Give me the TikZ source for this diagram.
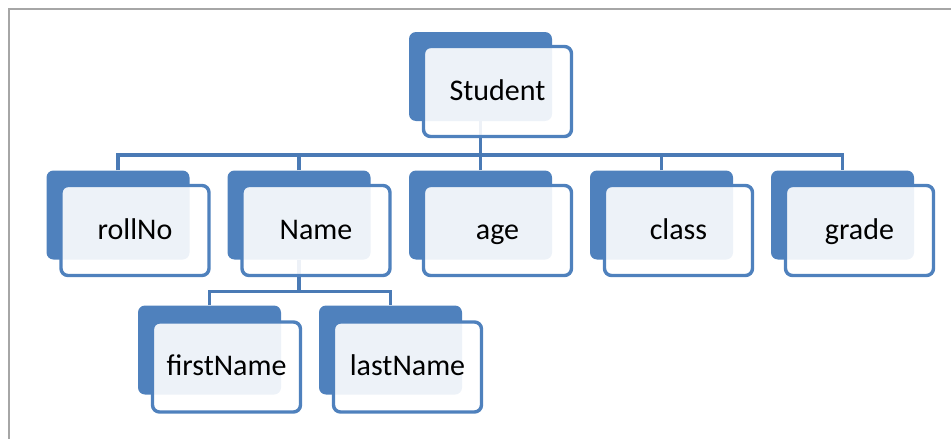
\documentclass[tikz,border=0pt]{standalone}
\usepackage{fontspec}
\setmainfont{Carlito}
\definecolor{boxblue}{HTML}{4F81BD}
\definecolor{connblue}{HTML}{4A7AB5}
\definecolor{framegray}{HTML}{A6A6A6}
\begin{document}
\begin{tikzpicture}[x=1pt,y=-1pt,
  backbox/.style={rectangle, rounded corners=7pt, fill=boxblue, draw=none,
    minimum width=143pt, minimum height=89pt, inner sep=0pt},
  frontbox/.style={rectangle, rounded corners=7pt, draw=boxblue, line width=3.4pt,
    fill=white, fill opacity=0.9, text opacity=1,
    minimum width=148pt, minimum height=90pt, inner sep=0pt,
    text height=21pt, text depth=4pt,
    font=\fontsize{30}{36}\selectfont, text=black},
  conn/.style={draw=connblue, line width=3.4pt}]
\useasboundingbox (0,0) rectangle (951,439);
\draw[framegray, line width=2pt] (8.5,439) -- (8.5,8.5) -- (951,8.5);
% back boxes
\node[backbox] (sB) at (480.5,76.5) {};
\node[backbox] (rB) at (118,215) {};
\node[backbox] (nB) at (299,215) {};
\node[backbox] (aB) at (480.5,215) {};
\node[backbox] (cB) at (661.5,215) {};
\node[backbox] (gB) at (842.5,215) {};
\node[backbox] (fB) at (209.5,350) {};
\node[backbox] (lB) at (390.5,350) {};
% connectors
\coordinate (bus1) at (480.5,155);
\coordinate (bus2) at (299,291.5);
\draw[conn] (sB.south) -- (sB.south |- bus1);
\draw[conn] (rB.north) |- (gB.north |- bus1) -- (gB.north);
\draw[conn] (nB.north) -- (nB.north |- bus1);
\draw[conn] (aB.north) -- (aB.north |- bus1);
\draw[conn] (cB.north) -- (cB.north |- bus1);
\draw[conn] (nB.south) -- (bus2);
\draw[conn] (fB.north) |- (lB.north |- bus2) -- (lB.north);
% front boxes
\node[frontbox] (s) at (497.5,91.5) {Student};
\node[frontbox] (r) at (135,230.5) {rollNo};
\node[frontbox] (n) at (316,230.5) {Name};
\node[frontbox] (a) at (497.5,230.5) {age};
\node[frontbox] (c) at (678.5,230.5) {class};
\node[frontbox] (g) at (859.5,230.5) {grade};
\node[frontbox] (f) at (226.5,367) {firstName};
\node[frontbox] (l) at (407.5,367) {lastName};
\end{tikzpicture}
\end{document}
